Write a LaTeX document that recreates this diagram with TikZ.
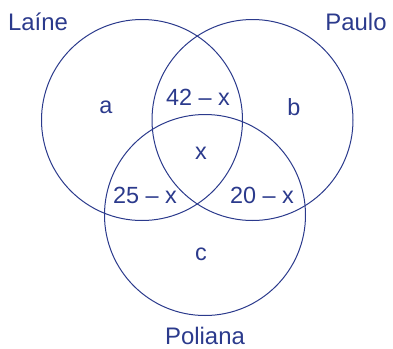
\documentclass[tikz,border=0pt]{standalone}
\usepackage{fontspec}
\setmainfont{Liberation Sans}
\usetikzlibrary{positioning}
\definecolor{ink}{HTML}{2B3A8C}
\tikzset{
  setcircle/.style={draw=ink,line width=1bp},
  setlabel/.style={text=ink,inner sep=0pt,font=\fontsize{24}{28}\selectfont},
  regionlabel/.style={text=ink,inner sep=0pt,font=\fontsize{23.5}{27}\selectfont}
}
\begin{document}
\begin{tikzpicture}[x=1bp,y=-1bp]
\useasboundingbox (0,0) rectangle (393,349);
\draw[setcircle] (142,120) circle[radius=100.5];
\draw[setcircle] (252.5,120) circle[radius=100.5];
\draw[setcircle] (205,215) circle[radius=100.5];
\node[setlabel] (laine) at (38,22) {Laíne};
\node[setlabel] (paulo) at (356,22) {Paulo};
\node[setlabel] (poliana) at (205,336) {Poliana};
\node[regionlabel] (a) at (106,107) {a};
\node[regionlabel] (b) at (294,107) {b};
\node[regionlabel] (lp) at (198,97) {42 -- x};
\node[regionlabel] (x) at (201,153) {x};
\node[regionlabel] (lo) at (145,195) {25 -- x};
\node[regionlabel] (po) at (262,195) {20 -- x};
\node[regionlabel] (c) at (201,254) {c};
\end{tikzpicture}
\end{document}
